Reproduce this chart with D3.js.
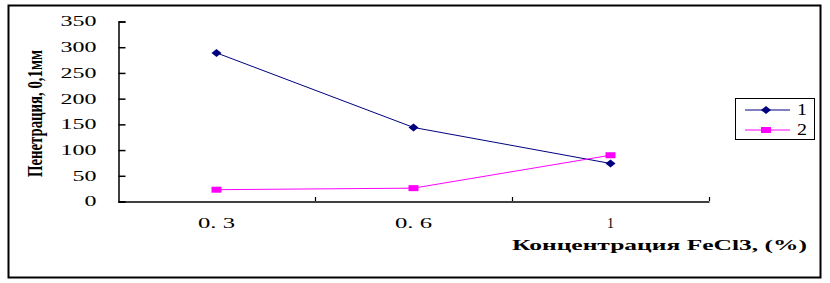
<!DOCTYPE html>
<html>
<head>
<meta charset="utf-8">
<script src="https://cdn.jsdelivr.net/npm/d3@7"></script>
<style>
  body { margin: 0; background: #fff; }
  svg { display: block; }
  .serif { font-family: "Liberation Serif", "DejaVu Serif", serif; }
</style>
</head>
<body>
<div id="chart"></div>
<script>
var categories = ["0. 3", "0. 6", "1"];
var series1 = [288, 143, 73];
var series2 = [22, 25, 89];
var yTicks = [0, 50, 100, 150, 200, 250, 300, 350];
var legendLabels = ["1", "2"];

var navy = "#000080";
var magenta = "#ff00ff";

var svg = d3.select("#chart")
  .append("svg")
    .attr("width", 830)
    .attr("height", 283);

// outer frame
svg.append("rect")
  .attr("x", 8.5)
  .attr("y", 5.5)
  .attr("width", 812)
  .attr("height", 272)
  .attr("fill", "#fff")
  .attr("stroke", "#000")
  .attr("stroke-width", 2);

var x = d3.scaleBand().domain(categories).range([118, 709]).padding(0);
var y = d3.scaleLinear().domain([0, 350]).range([201, 21]);

// y axis, ticks pointing inside
var yAxis = d3.axisLeft(y).tickValues(yTicks).tickSize(-7).tickPadding(22);
var gy = svg.append("g")
  .attr("transform", "translate(118.5,0.5)")
  .call(yAxis);
gy.select(".domain").attr("stroke", "#000").attr("stroke-width", 1.5);
gy.selectAll(".tick line").attr("stroke", "#000").attr("stroke-width", 1.5);
gy.selectAll(".tick text")
  .attr("class", "serif")
  .attr("font-size", 14)
  .attr("fill", "#000")
  .attr("textLength", function(d) { return String(d).length * 12; })
  .attr("lengthAdjust", "spacingAndGlyphs");

// x axis: labels at band centres, ticks at band edges
var xAxis = d3.axisBottom(x).tickSize(0).tickPadding(17);
var gx = svg.append("g")
  .attr("transform", "translate(0,201.5)")
  .call(xAxis);
gx.select(".domain").attr("stroke", "#000").attr("stroke-width", 1.5);
gx.selectAll(".tick text")
  .attr("class", "serif")
  .attr("font-size", 14)
  .attr("fill", "#000")
  .attr("textLength", function(d) { return d.length > 1 ? 37 : null; })
  .attr("lengthAdjust", "spacingAndGlyphs");

svg.append("g")
  .selectAll("line")
  .data(categories)
  .enter().append("line")
    .attr("x1", function(d) { return Math.round(x(d) + x.bandwidth()) + 0.5; })
    .attr("x2", function(d) { return Math.round(x(d) + x.bandwidth()) + 0.5; })
    .attr("y1", 201)
    .attr("y2", 197)
    .attr("stroke", "#000")
    .attr("stroke-width", 1.2);

// axis titles
svg.append("text")
  .text("Пенетрация, 0,1мм")
  .attr("class", "serif")
  .attr("transform", "translate(42,113.5) rotate(-90)")
  .attr("text-anchor", "middle")
  .attr("textLength", 127)
  .attr("lengthAdjust", "spacingAndGlyphs")
  .attr("font-weight", "bold")
  .attr("font-size", 20);

svg.append("text")
  .text("Концентрация FeCl3, (%)")
  .attr("class", "serif")
  .attr("x", 512)
  .attr("y", 250)
  .attr("textLength", 295)
  .attr("lengthAdjust", "spacingAndGlyphs")
  .attr("font-weight", "bold")
  .attr("font-size", 14);

// series
var cx = function(d, i) { return x(categories[i]) + x.bandwidth() / 2; };
var line = d3.line()
  .x(function(d, i) { return cx(d, i); })
  .y(function(d) { return y(d); });

function diamond(px, py) {
  return "M" + (px - 5) + "," + py + "L" + px + "," + (py - 4) +
    "L" + (px + 5) + "," + py + "L" + px + "," + (py + 4) + "Z";
}

svg.append("path")
  .datum(series1)
  .attr("d", line)
  .attr("fill", "none")
  .attr("stroke", navy)
  .attr("stroke-width", 1);

svg.append("path")
  .datum(series2)
  .attr("d", line)
  .attr("fill", "none")
  .attr("stroke", magenta)
  .attr("stroke-width", 1);

svg.append("g")
  .selectAll("rect")
  .data(series2)
  .enter().append("rect")
    .attr("x", function(d, i) { return cx(d, i) - 5; })
    .attr("y", function(d) { return y(d) - 3; })
    .attr("width", 10)
    .attr("height", 6)
    .attr("fill", magenta);

svg.append("g")
  .selectAll("path")
  .data(series1)
  .enter().append("path")
    .attr("d", function(d, i) { return diamond(cx(d, i), y(d)); })
    .attr("fill", navy);

// legend
var legend = svg.append("g");
legend.append("rect")
  .attr("x", 735.5)
  .attr("y", 98.5)
  .attr("width", 79)
  .attr("height", 41)
  .attr("fill", "#fff")
  .attr("stroke", "#000")
  .attr("stroke-width", 1);

var colors = [navy, magenta];
var items = legend.selectAll(".item")
  .data(legendLabels)
  .enter().append("g")
    .attr("class", "item")
    .attr("transform", function(d, i) { return "translate(0," + (110 + i * 20) + ")"; });

items.append("line")
  .attr("x1", 745)
  .attr("x2", 790)
  .attr("stroke", function(d, i) { return colors[i]; })
  .attr("stroke-width", 1);

items.append("path")
  .attr("d", function(d, i) {
    return i === 0 ? diamond(766, 0) : "M761,-3H771V3H761Z";
  })
  .attr("fill", function(d, i) { return colors[i]; });

items.append("text")
  .text(function(d) { return d; })
  .attr("class", "serif")
  .attr("x", 797)
  .attr("y", 5)
  .attr("textLength", 10)
  .attr("lengthAdjust", "spacingAndGlyphs")
  .attr("font-size", 16);
</script>
</body>
</html>
